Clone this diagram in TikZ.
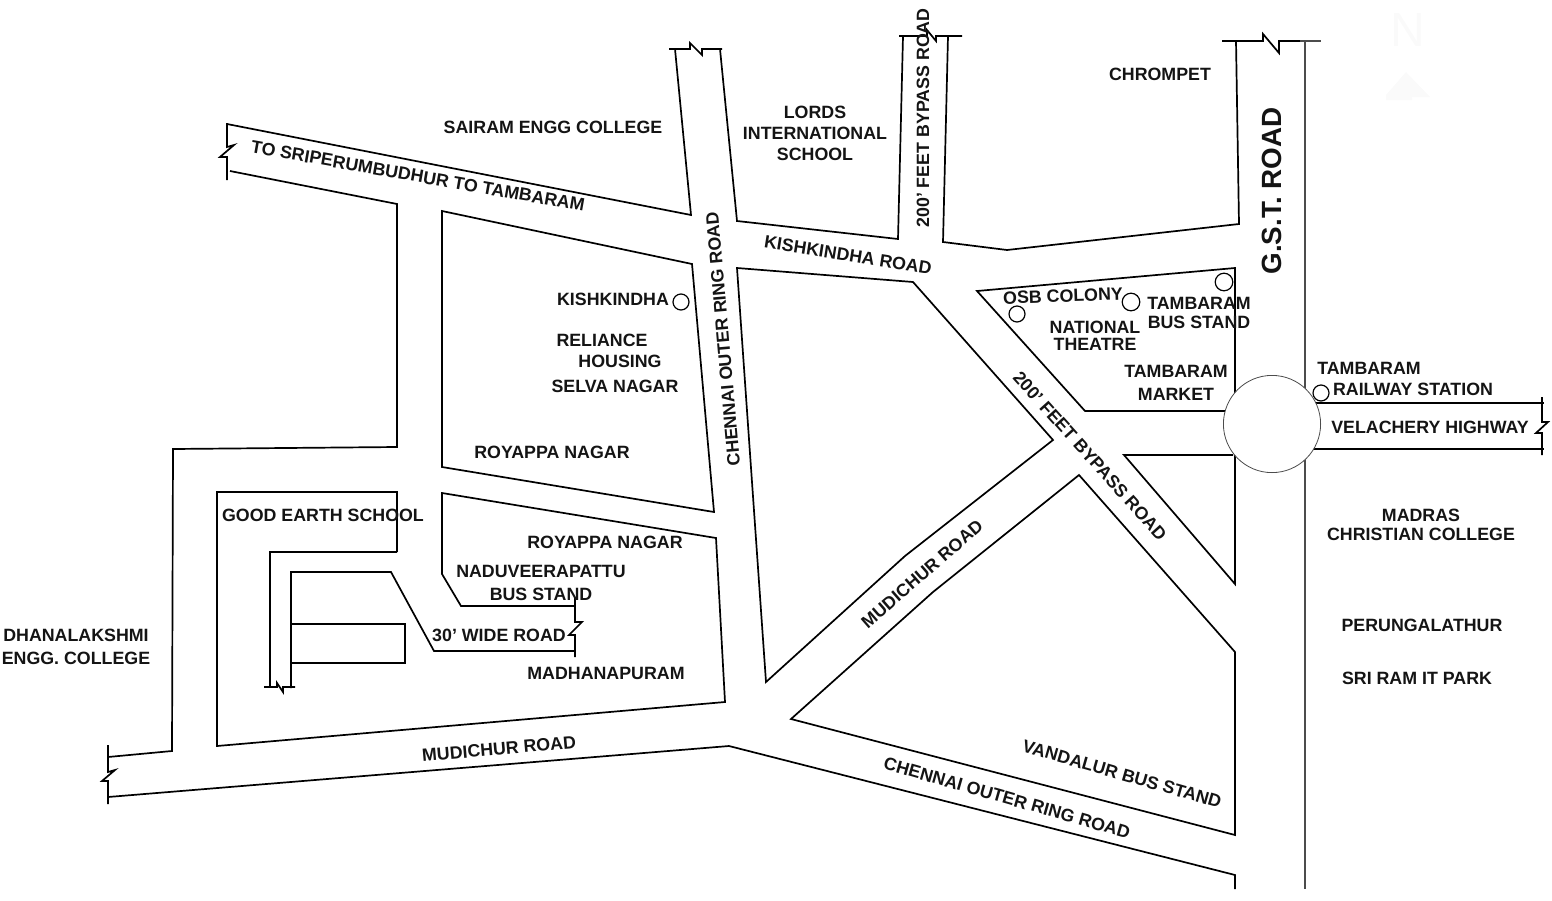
\documentclass[tikz,border=0pt]{standalone}
\usepackage{fontspec}
\setmainfont{Liberation Sans}
\tikzset{
  road/.style={line width=0.85pt,line join=miter},
  thinroad/.style={line width=0.6pt,black!70},
  place/.style={inner sep=0pt,font=\fontsize{8.9}{10}\selectfont\bfseries,text=black!92},
  spot/.style={line width=0.6pt},
}
\begin{document}
\begin{tikzpicture}[x=0.5pt,y=-0.5pt]
\useasboundingbox (0,0) rectangle (1552,900);
\draw[road] (227,123) -- (227,147) -- (234,145) -- (220,157) -- (227,157) -- (227,180);
\draw[road] (227,124) -- (691,215) -- (675,49);
\draw[road] (669,49) -- (690,49) -- (690,43) -- (702,55) -- (702,49) -- (722,49);
\draw[road] (720,49) -- (737,221) -- (898,239) -- (903,36);
\draw[road] (899,36) -- (927,36) -- (927,30) -- (936,41) -- (936,36) -- (962,36);
\draw[road] (948,36) -- (943,242) -- (1007,250) -- (1239,224) -- (1236,41);
\draw[road] (1222,41) -- (1263,41) -- (1263,34) -- (1279,53) -- (1279,41) -- (1300,41);
\draw[thinroad] (1300,41) -- (1321,41) (1305,41) -- (1305,889);
\draw[road] (230,171) -- (397,204) -- (397,447) -- (173,449) -- (172,751) -- (108,757);
\draw[road] (108,745) -- (108,772) -- (115,770) -- (102,781) -- (108,781) -- (108,804);
\draw[road] (108,797) -- (729,746) -- (1235,875) -- (1235,889);
\draw[road] (442,211) -- (692,264) -- (714,512) -- (442,467) -- cycle;
\draw[road] (397,552) -- (397,492) -- (217,492) -- (217,746) -- (725,702) -- (716,538) -- (442,493)
  -- (442,574) -- (461,606) -- (575,606);
\draw[road] (397,552) -- (270,552) -- (270,688);
\draw[road] (264,687) -- (277,687) -- (277,683) -- (283,692) -- (283,687) -- (295,687);
\draw[road] (291,688) -- (291,572) -- (391,572) -- (434,651) -- (575,651);
\draw[road] (291,624) -- (405,624) -- (405,663) -- (291,663);
\draw[road] (575,598) -- (575,622) -- (582,622) -- (569,635) -- (575,635) -- (575,657);
\draw[road] (737,268) -- (913,282) -- (1053,440) -- (905,556) -- (766,682) -- cycle;
\draw[road] (1079,475) -- (1235,652) -- (1235,835) -- (791,719) -- (933,592) -- cycle;
\draw[road] (1233,455) -- (1124,455) -- (1235,584) -- (1235,455);
\draw[road] (1235,400) -- (1235,268) -- (977,291) -- (1085,411) -- (1235,411);
\draw[road] (1300,403) -- (1544,403) (1300,449) -- (1544,449);
\draw[road] (1542,397) -- (1542,422) -- (1548,422) -- (1536,433) -- (1542,433) -- (1542,455);
\draw[line width=0.4pt,black!70,fill=white] (1272,424) circle[radius=24.3pt];
\draw[spot] (681,302) circle[radius=4pt];
\draw[spot] (1017,314) circle[radius=4pt];
\draw[spot] (1131,302) circle[radius=4.4pt];
\draw[spot] (1224,282) circle[radius=4.4pt];
\draw[spot] (1321,393) circle[radius=4pt];
\node[place,text=black!2,font=\fontsize{24}{24}\selectfont] (north) at (1408,30) {N};
\fill[black!2] (1406,72) -- (1430,97) -- (1412,97) -- (1412,100) -- (1386,100) -- (1386,95) -- cycle;
\node[place] (sriperumbudhur) at (418,176) [rotate=-10] {TO SRIPERUMBUDHUR TO TAMBARAM};
\node[place] (sairam) at (553,127) {SAIRAM ENGG COLLEGE};
\node[place,align=center,font=\fontsize{8.9}{10.5}\selectfont\bfseries] (lords) at (815,133) {LORDS\\INTERNATIONAL\\SCHOOL};
\node[place] (chrompet) at (1160,74) {CHROMPET};
\node[place] (bypassN) at (923,118) [rotate=90] {200’ FEET BYPASS ROAD};
\node[place,font=\fontsize{13.9}{15}\selectfont\bfseries] (gst) at (1272,191) [rotate=90] {G.S.T. ROAD};
\node[place] (outerN) at (723,339) [rotate=95] {CHENNAI OUTER RING ROAD};
\node[place] (kishroad) at (848,255) [rotate=-9] {KISHKINDHA ROAD};
\node[place] (kishkindha) at (613,299) {KISHKINDHA};
\node[place] (reliance) at (602,340) {RELIANCE};
\node[place] (housing) at (620,361) {HOUSING};
\node[place] (selva) at (615,386) {SELVA NAGAR};
\node[place] (royappaA) at (552,452) {ROYAPPA NAGAR};
\node[place] (royappaB) at (605,542) {ROYAPPA NAGAR};
\node[place] (naduveera) at (541,571) {NADUVEERAPATTU};
\node[place] (busstand) at (541,594) {BUS STAND};
\node[place] (wideroad) at (499,635) {30’ WIDE ROAD};
\node[place] (madhana) at (606,673) {MADHANAPURAM};
\node[place] (goodearth) at (323,515) {GOOD EARTH SCHOOL};
\node[place] (dhana) at (76,635) {DHANALAKSHMI};
\node[place] (enggcol) at (76,658) {ENGG. COLLEGE};
\node[place] (mudiS) at (499,749) [rotate=5] {MUDICHUR ROAD};
\node[place] (mudiE) at (922,574) [rotate=41] {MUDICHUR ROAD};
\node[place] (bypassE) at (1090,456) [rotate=-48] {200’ FEET BYPASS ROAD};
\node[place] (osb) at (1063,296) [rotate=2] {OSB COLONY};
\node[place] (tamA) at (1199,303) {TAMBARAM};
\node[place] (tamB) at (1199,322) {BUS STAND};
\node[place] (national) at (1095,327) {NATIONAL};
\node[place] (theatre) at (1095,344) {THEATRE};
\node[place] (tamC) at (1176,371) {TAMBARAM};
\node[place] (market) at (1176,394) {MARKET};
\node[place] (tamD) at (1369,368) {TAMBARAM};
\node[place] (railway) at (1413,389) {RAILWAY STATION};
\node[place] (velachery) at (1430,427) {VELACHERY HIGHWAY};
\node[place] (madras) at (1421,515) {MADRAS};
\node[place] (christian) at (1421,534) {CHRISTIAN COLLEGE};
\node[place] (perungal) at (1422,625) {PERUNGALATHUR};
\node[place] (sriram) at (1417,678) {SRI RAM IT PARK};
\node[place] (vandalur) at (1122,774) [rotate=-16] {VANDALUR BUS STAND};
\node[place] (outerS) at (1007,798) [rotate=-16] {CHENNAI OUTER RING ROAD};
\end{tikzpicture}
\end{document}
